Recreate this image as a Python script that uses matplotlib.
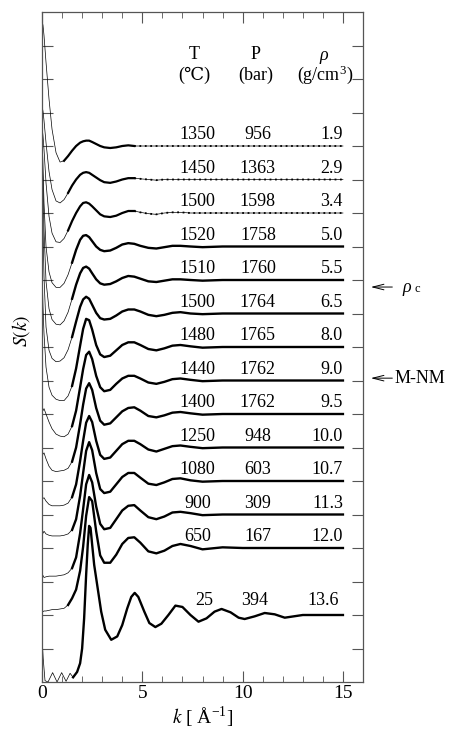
import matplotlib
matplotlib.use("Agg")
import matplotlib.pyplot as plt
import numpy as np

plt.rcParams['font.family'] = ['Liberation Serif', 'DejaVu Serif']
plt.rcParams['mathtext.fontset'] = 'stix'

# ---- data: S(k) of fluid Hg ----
temps = ['1350', '1450', '1500', '1520', '1510', '1500', '1480', '1440',
         '1400', '1250', '1080', '900', '650', '25']
press = ['956', '1363', '1598', '1758', '1760', '1764', '1765', '1762',
         '1762', '948', '603', '309', '167', '394']
dens = ['1.9', '2.9', '3.4', '5.0', '5.5', '6.5', '8.0', '9.0',
        '9.5', '10.0', '10.7', '11.3', '12.0', '13.6']
offsets = [16, 15, 14, 13, 12, 11, 10, 9, 8, 7, 6, 5, 4, 2]
data_start = [1.1, 1.3, 1.3, 1.5, 1.5, 1.5, 1.5, 1.5, 1.5, 1.5, 1.5, 1.5, 1.3, 1.5]

k = [0.0, 0.05, 0.1, 0.2, 0.35, 0.5, 0.7, 0.9, 1.1, 1.3, 1.5, 1.7, 1.9, 2.05,
     2.2, 2.35, 2.5, 2.7, 2.9, 3.1, 3.4, 3.7, 4.0, 4.3, 4.6, 4.9, 5.3, 5.7,
     6.1, 6.5, 6.9, 7.4, 8.0, 9.0, 10.0, 11.0, 12.0, 13.5, 15.0]

s_1350 = [2.88, 2.80, 2.65, 2.25, 1.70, 1.25, 0.90, 0.76, 0.78, 0.85, 0.93, 1.00, 1.05,
          1.07, 1.08, 1.08, 1.06, 1.03, 1.00, 0.98, 0.97, 0.98, 1.00, 1.01, 1.00, 1.00,
          1.00, 1.00, 1.00, 1.00, 1.00, 1.00, 1.00, 1.00, 1.00, 1.00, 1.00, 1.00, 1.00]
s_1450 = [2.10, 2.02, 1.88, 1.55, 1.12, 0.85, 0.68, 0.65, 0.70, 0.80, 0.91, 1.00, 1.07,
          1.10, 1.11, 1.10, 1.07, 1.03, 0.99, 0.96, 0.95, 0.97, 1.00, 1.02, 1.02, 1.01,
          1.00, 0.99, 1.00, 1.00, 1.00, 1.00, 1.00, 1.00, 1.00, 1.00, 1.00, 1.00, 1.00]
s_1500a = [2.30, 2.15, 1.95, 1.45, 0.95, 0.70, 0.57, 0.56, 0.62, 0.74, 0.88, 1.00, 1.10,
           1.15, 1.16, 1.14, 1.10, 1.04, 0.98, 0.95, 0.94, 0.96, 1.00, 1.03, 1.03, 1.01,
           0.99, 0.98, 1.00, 1.01, 1.01, 1.00, 1.00, 1.00, 1.00, 1.00, 1.00, 1.00, 1.00]
s_1520 = [2.70, 2.20, 1.65, 1.00, 0.62, 0.46, 0.39, 0.39, 0.45, 0.58, 0.76, 0.95, 1.10,
          1.16, 1.17, 1.14, 1.08, 1.00, 0.95, 0.93, 0.94, 0.98, 1.03, 1.05, 1.04, 1.01,
          0.98, 0.97, 0.99, 1.01, 1.01, 1.00, 0.99, 1.00, 1.00, 1.00, 1.00, 1.00, 1.00]
s_1510 = [3.10, 2.40, 1.75, 0.98, 0.57, 0.41, 0.34, 0.33, 0.39, 0.52, 0.72, 0.93, 1.10,
          1.18, 1.20, 1.17, 1.10, 1.01, 0.95, 0.93, 0.94, 0.98, 1.03, 1.06, 1.05, 1.02,
          0.98, 0.97, 0.99, 1.01, 1.01, 1.00, 0.99, 1.00, 1.00, 1.00, 1.00, 1.00, 1.00]
s_1500b = [3.25, 2.30, 1.55, 0.80, 0.45, 0.33, 0.28, 0.29, 0.34, 0.46, 0.65, 0.88, 1.10,
           1.21, 1.25, 1.22, 1.13, 1.01, 0.93, 0.91, 0.92, 0.97, 1.03, 1.06, 1.06, 1.03,
           0.98, 0.96, 0.98, 1.01, 1.02, 1.00, 0.99, 1.00, 1.00, 1.00, 1.00, 1.00, 1.00]
s_1480 = [2.20, 1.60, 1.20, 0.70, 0.40, 0.28, 0.22, 0.20, 0.20, 0.27, 0.42, 0.68, 1.02,
          1.27, 1.42, 1.40, 1.26, 1.03, 0.89, 0.85, 0.87, 0.95, 1.03, 1.07, 1.07, 1.03,
          0.97, 0.95, 0.98, 1.02, 1.03, 1.01, 0.99, 1.00, 1.00, 1.00, 1.00, 1.00, 1.00]
s_1440 = [0.60, 0.55, 0.58, 0.50, 0.38, 0.28, 0.20, 0.17, 0.16, 0.20, 0.32, 0.55, 0.90,
          1.17, 1.38, 1.43, 1.32, 1.07, 0.90, 0.84, 0.86, 0.95, 1.03, 1.07, 1.07, 1.03,
          0.97, 0.95, 0.98, 1.02, 1.03, 1.01, 0.99, 1.00, 1.00, 1.00, 1.00, 1.00, 1.00]
s_1400 = [0.43, 0.40, 0.42, 0.33, 0.22, 0.16, 0.14, 0.15, 0.16, 0.19, 0.29, 0.50, 0.85,
          1.14, 1.38, 1.46, 1.36, 1.09, 0.90, 0.84, 0.86, 0.95, 1.04, 1.09, 1.10, 1.05,
          0.97, 0.95, 0.98, 1.02, 1.03, 1.01, 0.99, 1.00, 1.00, 1.00, 1.00, 1.00, 1.00]
s_1250 = [0.26, 0.24, 0.25, 0.20, 0.15, 0.13, 0.13, 0.13, 0.14, 0.17, 0.26, 0.45, 0.80,
          1.10, 1.37, 1.47, 1.38, 1.10, 0.89, 0.83, 0.85, 0.95, 1.05, 1.10, 1.10, 1.05,
          0.97, 0.94, 0.98, 1.02, 1.03, 1.01, 0.99, 1.00, 1.00, 1.00, 1.00, 1.00, 1.00]
s_1080 = [0.27, 0.22, 0.25, 0.21, 0.19, 0.18, 0.18, 0.18, 0.19, 0.21, 0.27, 0.43, 0.78,
          1.12, 1.45, 1.58, 1.46, 1.12, 0.88, 0.82, 0.84, 0.95, 1.06, 1.12, 1.12, 1.05,
          0.96, 0.94, 0.98, 1.03, 1.04, 1.01, 0.99, 1.00, 1.00, 1.00, 1.00, 1.00, 1.00]
s_900 = [0.07, 0.09, 0.06, 0.07, 0.08, 0.08, 0.08, 0.09, 0.10, 0.13, 0.20, 0.36, 0.72,
         1.08, 1.45, 1.59, 1.48, 1.12, 0.86, 0.78, 0.80, 0.93, 1.06, 1.13, 1.14, 1.06,
         0.96, 0.93, 0.97, 1.03, 1.04, 1.02, 0.99, 1.00, 1.00, 1.00, 1.00, 1.00, 1.00]
s_650 = [0.05, 0.05, 0.06, 0.06, 0.07, 0.08, 0.08, 0.09, 0.10, 0.15, 0.25, 0.38, 0.66,
         1.02, 1.48, 1.76, 1.70, 1.25, 0.89, 0.78, 0.78, 0.90, 1.06, 1.15, 1.16, 1.08,
         0.95, 0.92, 0.96, 1.03, 1.06, 1.03, 0.98, 1.01, 1.00, 1.00, 1.00, 1.00, 1.00]

# room temperature curve, on its own finer grid
k_25 = [0.0, 0.06, 0.15, 0.3, 0.53, 0.75, 0.98, 1.2, 1.4, 1.55, 1.75, 1.9, 2.0, 2.1,
        2.2, 2.28, 2.35, 2.42, 2.5, 2.6, 2.75, 2.95, 3.15, 3.45, 3.75, 4.0, 4.25,
        4.45, 4.62, 4.8, 5.1, 5.35, 5.65, 5.95, 6.3, 6.65, 7.0, 7.4, 7.8, 8.2, 8.6,
        8.95, 9.4, 9.8, 10.1, 10.6, 11.1, 11.6, 12.1, 13.0, 14.0, 15.0]
s_25 = [0.68, 0.35, 0.02, 0.0, 0.14, 0.0, 0.14, 0.01, 0.13, 0.07, 0.15, 0.28, 0.50, 0.95,
        1.60, 2.05, 2.33, 2.30, 2.05, 1.75, 1.45, 1.05, 0.78, 0.63, 0.68, 0.85, 1.10,
        1.27, 1.33, 1.27, 1.05, 0.88, 0.82, 0.87, 1.00, 1.14, 1.12, 1.00, 0.90, 0.95,
        1.05, 1.09, 1.04, 0.96, 0.94, 0.98, 1.03, 1.01, 0.96, 1.00, 1.00, 1.00]

curves = [s_1350, s_1450, s_1500a, s_1520, s_1510, s_1500b, s_1480, s_1440,
          s_1400, s_1250, s_1080, s_900, s_650, s_25]

fig = plt.figure(figsize=(4.5, 7.33), dpi=100)
ax = fig.add_axes([42 / 450, 51 / 733, 321 / 450, 670 / 733])

for i, s in enumerate(curves):
    kk = np.array(k_25 if temps[i] == '25' else k)
    y = offsets[i] + 2 * (np.array(s) - 1.0)   # each tick = 0.5 in S(k)
    ax.plot(kk, y, color='black', lw=0.5)
    m = kk >= data_start[i]
    if i < 3:
        solid = m & (kk <= 4.6)
        ax.plot(kk[solid], y[solid], color='black', lw=1.6)
        rest = kk >= 4.6
        ax.plot(kk[rest], y[rest], color='black', lw=1.3, ls=(0, (1, 2)))
    else:
        ax.plot(kk[m], y[m], color='black', lw=1.7)

# column labels
fs = 13
for i in range(len(temps)):
    yb = offsets[i] + 0.2
    if temps[i] == '25':
        ax.text(8.07, offsets[i] + 0.3, temps[i], ha='center', va='baseline', fontsize=fs)
        ax.text(10.61, offsets[i] + 0.3, press[i], ha='center', va='baseline', fontsize=fs)
        ax.text(14.8, offsets[i] + 0.3, dens[i], ha='right', va='baseline', fontsize=fs)
    else:
        ax.text(7.75, yb, temps[i], ha='center', va='baseline', fontsize=fs)
        ax.text(10.76, yb, press[i], ha='center', va='baseline', fontsize=fs)
        ax.text(15.0, yb, dens[i], ha='right', va='baseline', fontsize=fs)

ax.text(7.6, 18.72, 'T', ha='center', va='center', fontsize=fs)
ax.text(7.6, 18.12, '(℃)', ha='center', va='center', fontsize=fs)
ax.text(10.65, 18.72, 'P', ha='center', va='center', fontsize=fs)
ax.text(10.65, 18.12, '(bar)', ha='center', va='center', fontsize=fs)
ax.text(14.05, 18.7, 'ρ', ha='center', va='center', fontsize=fs, style='italic')
ax.text(14.1, 18.12, '(g/cm$^{\\mathregular{3}}$)', ha='center', va='center', fontsize=fs)

# arrows at the right
ax.annotate('', xy=(16.25, 11.79), xytext=(17.6, 11.79), annotation_clip=False,
            arrowprops=dict(arrowstyle='->,head_length=0.8,head_width=0.2', lw=0.7, color='black'))
ax.text(17.95, 11.79, 'ρ', ha='left', va='center', fontsize=fs, style='italic')
ax.text(18.55, 11.72, 'c', ha='left', va='center', fontsize=9)
ax.annotate('', xy=(16.25, 9.07), xytext=(17.6, 9.07), annotation_clip=False,
            arrowprops=dict(arrowstyle='->,head_length=0.8,head_width=0.2', lw=0.7, color='black'))
ax.text(17.55, 9.07, 'M-NM', ha='left', va='center', fontsize=fs)

ax.set_xlim(0, 16)
ax.set_ylim(0, 20)
ax.set_xticks([0, 5, 10, 15])
ax.set_xticks(np.arange(0, 16, 1), minor=True)
ax.set_yticks(np.arange(1, 20, 1))
ax.set_yticklabels([])
ax.tick_params(axis='x', which='major', direction='in', length=8, top=True, labelsize=14, pad=2, color='#555555')
ax.tick_params(axis='x', which='minor', direction='in', length=4, top=True, color='#555555')
ax.tick_params(axis='y', which='major', direction='in', length=8, right=True, color='#555555')
for sp in ax.spines.values():
    sp.set_color('#555555')
    sp.set_linewidth(0.9)

ax.set_xlabel('$k$ [ Å$^{\\mathregular{-1}}$]', fontsize=14, labelpad=2)
fig.text(21 / 450, 1 - 331 / 733, '$S(k)$', rotation=90, ha='center', va='center', fontsize=14)

fig.savefig('out.png', dpi=100)
